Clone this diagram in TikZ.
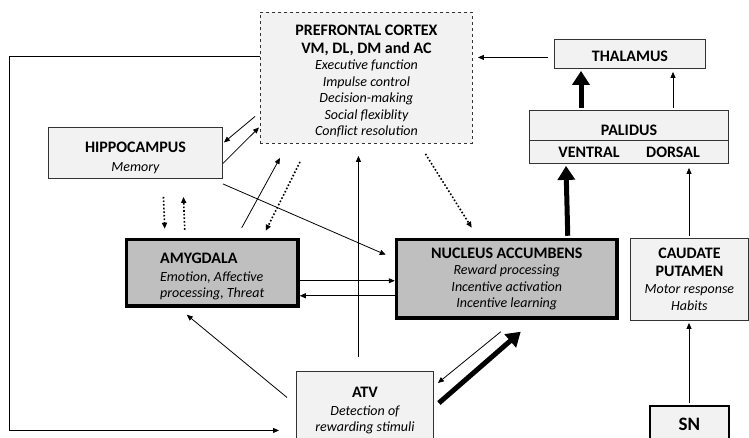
\documentclass[tikz,border=0pt]{standalone}
\usepackage{fontspec}
\setmainfont{Carlito}
\usetikzlibrary{arrows.meta}
\definecolor{boxfill}{HTML}{F2F2F2}
\definecolor{darkfill}{HTML}{BFBFBF}
\definecolor{edge}{HTML}{333333}
\newcommand\hd[1]{{\fontsize{16}{16.5}\selectfont\bfseries #1}}
\newcommand\itx[1]{{\fontsize{14}{16.5}\selectfont\itshape #1}}
\newcommand\lift[1]{\rule{0pt}{#1pt}}
\begin{document}
\begin{tikzpicture}[x=1pt,y=-1pt,
  box/.style={draw=edge, fill=boxfill, line width=0.9pt, inner sep=0pt, align=center,
    font=\fontsize{14}{16.5}\selectfont},
  darkbox/.style={box, draw=black, fill=darkfill, line width=3.5pt},
  lbl/.style={inner sep=0pt, font=\fontsize{16}{16.5}\selectfont\bfseries},
  arr/.style={-{Triangle[length=6pt,width=5pt]}, line width=0.8pt},
  bigarr/.style={-{Triangle[length=14pt,width=17pt]}, line width=5pt},
  dotarr/.style={-{Triangle[length=6pt,width=5pt]}, line width=1.6pt, dotted}]
\clip (0,0) rectangle (749,437);
\fill[white] (0,0) rectangle (749,437);

% boxes
\node[box, dashed, minimum width=212, minimum height=131, anchor=north west] (pfc) at (260,12)
  {\lift{17}\hd{PREFRONTAL CORTEX}\\[1pt] \hd{VM, DL, DM and AC}\\
   \itx{Executive function}\\ \itx{Impulse control}\\ \itx{Decision-making}\\
   \itx{Social flexiblity}\\ \itx{Conflict resolution}};
\node[box, minimum width=174, minimum height=51, anchor=north west] (hip) at (48,127)
  {\lift{20.5}\hd{HIPPOCAMPUS}\\[2pt] \itx{Memory}};
\node[box, minimum width=151, minimum height=29, anchor=north west] (thal) at (554,39)
  {\lift{15}\hd{THALAMUS}};
\node[box, minimum width=199, minimum height=53, anchor=north west] (pal) at (529,110) {};
\draw[edge, line width=0.9pt] ([shift={(0,30)}]pal.north west) -- ([shift={(0,30)}]pal.north east);
\node[lbl] (palt) at ([shift={(0,20.5)}]pal.north) {PALIDUS};
\node[lbl] (ventral) at ([shift={(60,-11.5)}]pal.south west) {VENTRAL};
\node[lbl] (dorsal) at ([shift={(144,-11.5)}]pal.south west) {DORSAL};
\node[darkbox, minimum width=171.5, minimum height=66.5, anchor=north west, align=left] (amy) at (124.75,237.75)
  {\lift{18}\hd{AMYGDALA}\\[1pt] \itx{Emotion, Affective}\\ \itx{processing, Threat}};
\node[darkbox, minimum width=220.5, minimum height=78.5, anchor=north west] (na) at (394.75,237.75)
  {\hd{NUCLEUS ACCUMBENS}\\ \itx{Reward processing}\\ \itx{Incentive activation}\\ \itx{Incentive learning}};
\node[box, minimum width=118, minimum height=82, anchor=north west] (cp) at (630,238)
  {\hd{CAUDATE}\\[1pt] \hd{PUTAMEN}\\[1pt] \itx{Motor response}\\ \itx{Habits}};
\node[box, minimum width=137, minimum height=76, anchor=north west] (atv) at (296,371)
  {\lift{13}\hd{ATV}\\[1pt] \itx{Detection of}\\ \itx{rewarding stimuli}};
\node[box, draw=black, line width=1.6pt, minimum width=79, minimum height=38, anchor=north west,
  font=\fontsize{19}{22}\selectfont\bfseries] (sn) at (649,405) {SN};

% connectors
\draw[arr] ([shift={(-6,3.5)}]thal.west) -- ([shift={(5,-20.5)}]pfc.east);
\draw[bigarr] ([shift={(52,-2)}]pal.north west) -- ([shift={(27,2)}]thal.south west);
\draw[arr] ([shift={(144,-2)}]pal.north west) -- ([shift={(119,3)}]thal.south west);
\draw[bigarr] ([shift={(173,-2)}]na.north west) -- ([shift={(37,2)}]pal.south west);
\draw[arr] ([shift={(59,-2)}]cp.north west) -- ([shift={(160,4)}]pal.south west);
\draw[arr] ([shift={(40,-2)}]sn.north west) -- ([shift={(59,2)}]cp.south west);

\draw[arr] ([shift={(-5,38.5)}]pfc.west) -- ([shift={(1,-10.5)}]hip.east);
\draw[arr] ([shift={(0,10.5)}]hip.east) -- ([shift={(-1,49.5)}]pfc.west);
\draw[arr] ([shift={(0,5)}]hip.south east) -- ([shift={(-9,17)}]na.north west);
\draw[arr] ([shift={(-58,-10)}]amy.north east) -- ([shift={(20,14)}]pfc.south west);
\draw[dotarr] ([shift={(40,18)}]pfc.south west) -- ([shift={(-34,-7)}]amy.north east);
\draw[dotarr] ([shift={(28,18)}]hip.south) -- ([shift={(-47.5,-9)}]amy.north);
\draw[dotarr] ([shift={(-27.5,-8)}]amy.north) -- ([shift={(48,18)}]hip.south);
\draw[dotarr] ([shift={(59,10)}]pfc.south) -- ([shift={(77,-10)}]na.north west);
\draw[arr] ([shift={(-6.5,-14)}]atv.north) -- ([shift={(-8,12)}]pfc.south);
\draw[arr] ([shift={(0,8)}]amy.east) -- ([shift={(0,2)}]na.west);
\draw[arr] ([shift={(0,17)}]na.west) -- ([shift={(0,23)}]amy.east);
\draw[arr] ([shift={(-9,-12)}]atv.west) -- ([shift={(-25.5,7)}]amy.south);
\draw[arr] ([shift={(-6,12)}]na.south) -- ([shift={(4,12)}]atv.north east);
\draw[bigarr] ([shift={(5,32)}]atv.north east) -- ([shift={(14,12)}]na.south);
\draw[arr] ([shift={(0,-21.5)}]pfc.west) -- ++(-251,0) |- ([shift={(-17,21)}]atv.west);
\end{tikzpicture}
\end{document}
